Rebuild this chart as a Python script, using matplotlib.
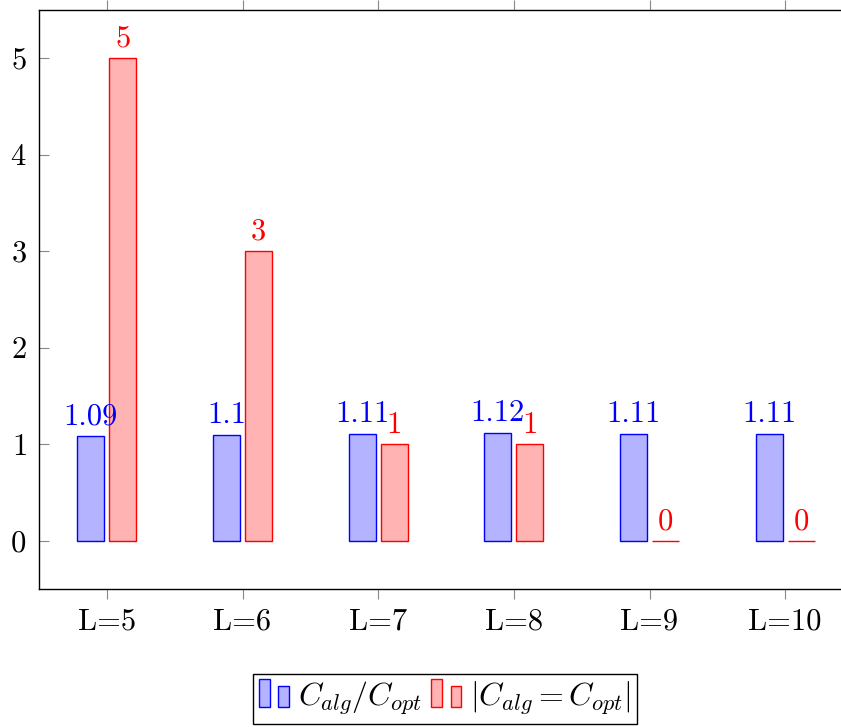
import matplotlib
matplotlib.use('Agg')
import matplotlib.pyplot as plt
from matplotlib.patches import Rectangle
from matplotlib import rcParams

# Computer Modern look, like the LaTeX original
rcParams['font.family'] = 'serif'
rcParams['font.serif'] = ['cmr10', 'DejaVu Serif']
rcParams['mathtext.fontset'] = 'cm'
rcParams['axes.formatter.use_mathtext'] = True

# data
categories = ['L=5', 'L=6', 'L=7', 'L=8', 'L=9', 'L=10']
ratio = [1.09, 1.1, 1.11, 1.12, 1.11, 1.11]
ratio_labels = ['1.09', '1.1', '1.11', '1.12', '1.11', '1.11']
equal_count = [5, 3, 1, 1, 0, 0]

blue_fill = '#b3b3ff'
red_fill = '#ffb3b3'
fs = 22


class TwoBarHandler:
    """legend image like pgfplots ybar: two small bars"""
    def __init__(self, face, edge):
        self.face = face
        self.edge = edge

    def legend_artist(self, legend, orig_handle, fontsize, handlebox):
        x0, y0 = handlebox.xdescent, handlebox.ydescent
        w, h = handlebox.width, handlebox.height
        bw = w * 0.33
        r1 = Rectangle((-x0, -y0 - h * 0.05), bw, h * 1.25,
                       facecolor=self.face, edgecolor=self.edge, lw=1,
                       transform=handlebox.get_transform())
        r2 = Rectangle((0.6 * w - x0, -y0 - h * 0.05), bw, h * 0.95,
                       facecolor=self.face, edgecolor=self.edge, lw=1,
                       transform=handlebox.get_transform())
        handlebox.add_artist(r1)
        handlebox.add_artist(r2)
        return r1


fig = plt.figure(figsize=(8.41, 7.27), dpi=100)
ax = fig.add_axes([39 / 841, 138 / 727, 814 / 841, 579 / 727])

x = list(range(len(categories)))
off = 0.118
bw = 0.2
b1 = ax.bar([i - off for i in x], ratio, width=bw, color=blue_fill,
            edgecolor='blue', linewidth=1, label=r'$C_{alg}/C_{opt}$')
b2 = ax.bar([i + off for i in x], equal_count, width=bw, color=red_fill,
            edgecolor='red', linewidth=1, label=r'$|C_{alg} = C_{opt}|$')

for i in x:
    ax.annotate(ratio_labels[i], (i - off, ratio[i]), xytext=(0, 4),
                textcoords='offset points', ha='center', va='bottom',
                color='blue', fontsize=fs)
    ax.annotate(str(equal_count[i]), (i + off, equal_count[i]), xytext=(0, 4),
                textcoords='offset points', ha='center', va='bottom',
                color='red', fontsize=fs)

ax.set_xlim(-0.5, 5.5)
ax.set_ylim(-0.5, 5.5)
ax.set_xticks(x)
ax.set_xticklabels(categories)
ax.set_yticks([0, 1, 2, 3, 4, 5])
ax.tick_params(axis='x', direction='out', length=7, width=0.8,
               color='#888888', labelsize=fs, top=True, pad=7)
ax.tick_params(axis='y', direction='in', length=7, width=0.8,
               color='#888888', labelsize=fs, right=True, pad=9)
for s in ax.spines.values():
    s.set_linewidth(1)
    s.set_color('black')

fig.legend(handles=[b1, b2], loc='center', bbox_to_anchor=(0.529, 0.039),
           ncol=2, fontsize=fs + 1, frameon=True, fancybox=False,
           edgecolor='black', framealpha=1, handlelength=1.0,
           handletextpad=0.2, columnspacing=0.3, borderpad=0.2,
           handler_map={b1: TwoBarHandler(blue_fill, 'blue'),
                        b2: TwoBarHandler(red_fill, 'red')})

fig.savefig('out.png', dpi=100)
